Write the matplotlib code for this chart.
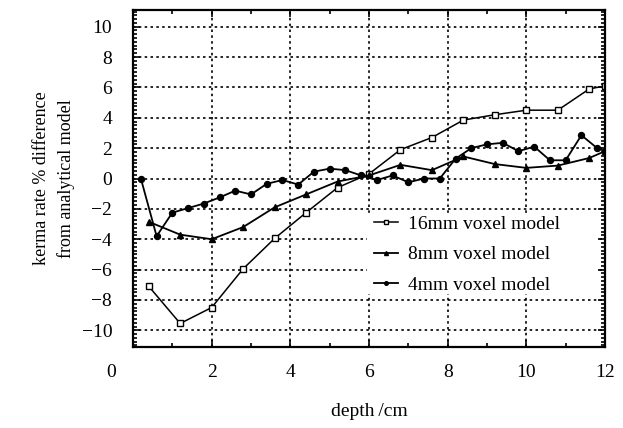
import numpy as np
import matplotlib
matplotlib.use('Agg')
import matplotlib.pyplot as plt
import matplotlib.transforms as mtransforms
from matplotlib.patches import Rectangle
from matplotlib.ticker import MultipleLocator

plt.rcParams['font.family'] = 'Liberation Serif'

# 16mm voxel model (open squares)
x16 = [0.4, 1.2, 2.0, 2.8, 3.6, 4.4, 5.2, 6.0, 6.8, 7.6, 8.4, 9.2, 10.0, 10.8, 11.6, 12.0]
y16 = [-7.1, -9.55, -8.5, -5.95, -3.95, -2.25, -0.6, 0.3, 1.9, 2.7, 3.85, 4.2, 4.5, 4.5, 5.9, 6.1]

# 8mm voxel model (filled triangles)
x8 = [0.4, 1.2, 2.0, 2.8, 3.6, 4.4, 5.2, 6.0, 6.8, 7.6, 8.4, 9.2, 10.0, 10.8, 11.6, 12.0]
y8 = [-2.85, -3.7, -4.0, -3.2, -1.9, -1.05, -0.2, 0.2, 0.9, 0.55, 1.45, 0.95, 0.7, 0.85, 1.35, 1.8]

# 4mm voxel model (filled circles)
x4 = [0.2, 0.6, 1.0, 1.4, 1.8, 2.2, 2.6, 3.0, 3.4, 3.8, 4.2, 4.6, 5.0, 5.4, 5.8,
      6.2, 6.6, 7.0, 7.4, 7.8, 8.2, 8.6, 9.0, 9.4, 9.8, 10.2, 10.6, 11.0, 11.4, 11.8, 12.0]
y4 = [0.0, -3.8, -2.25, -1.95, -1.65, -1.25, -0.8, -1.05, -0.35, -0.1, -0.4, 0.45, 0.65, 0.55, 0.2,
      -0.1, 0.2, -0.25, 0.0, 0.0, 1.3, 2.0, 2.25, 2.35, 1.8, 2.1, 1.2, 1.2, 2.85, 2.0, 1.8]

labels = ['16mm voxel model', '8mm voxel model', '4mm voxel model']

fig = plt.figure(figsize=(6.23, 4.28), dpi=100)
ax = fig.add_axes([133/623, 1 - 347/428, (605-133)/623, (347-10)/428])

ax.plot(x16, y16, '-s', color='black', lw=1.1, ms=4.2, mfc='white', mew=1.0, label=labels[0])
ax.plot(x8, y8, '-^', color='black', lw=1.3, ms=4.8, label=labels[1])
ax.plot(x4, y4, '-o', color='black', lw=1.3, ms=4.3, label=labels[2])

ax.set_xlim(0, 12)
ax.set_ylim(-11.1, 11.1)
ax.xaxis.set_major_locator(MultipleLocator(2))
ax.xaxis.set_minor_locator(MultipleLocator(1))
ax.yaxis.set_major_locator(MultipleLocator(2))
ax.yaxis.set_minor_locator(MultipleLocator(0.25))
ax.tick_params(which='both', direction='in', top=True, right=True, width=1.2, labelsize=14)
ax.tick_params(which='major', length=5)
ax.tick_params(which='minor', length=3)
ax.tick_params(axis='y', pad=15)
ax.tick_params(axis='x', pad=12)
ax.grid(True, which='major', color='black', ls=(0, (1.5, 2)), lw=1.2)
for sp in ax.spines.values():
    sp.set_linewidth(1.6)

ax.set_yticks(np.arange(-10, 11, 2))
ax.set_yticklabels([str(v).replace('-', '\u2212') for v in range(-10, 11, 2)])
ax.set_xticks(np.arange(0, 13, 2))

# the "0" on the x axis sits left of the frame in the original
fig.canvas.draw()
lab0 = ax.get_xticklabels()[0]
lab0.set_transform(lab0.get_transform() + mtransforms.ScaledTranslation(-22/100, 0, fig.dpi_scale_trans))

ax.set_xlabel('depth\u2009/cm', size=14, labelpad=16)
ax.set_ylabel('kerma rate % difference\nfrom analytical model', size=13, labelpad=5, linespacing=1.45)

# white patch behind the legend hides the grid there
trans = mtransforms.blended_transform_factory(ax.transAxes, ax.transData)
ax.add_patch(Rectangle((0.495, -7.6), 0.49, 5.2, transform=trans, facecolor='white',
                       edgecolor='none', zorder=1.8))

leg = ax.legend(loc='upper left', bbox_to_anchor=(0.495, 0.415), frameon=False, fontsize=14,
                handlelength=1.2, handletextpad=0.55, labelspacing=0.68, markerscale=0.6,
                borderpad=0.4, borderaxespad=0)

plt.savefig('out.png', dpi=100)
